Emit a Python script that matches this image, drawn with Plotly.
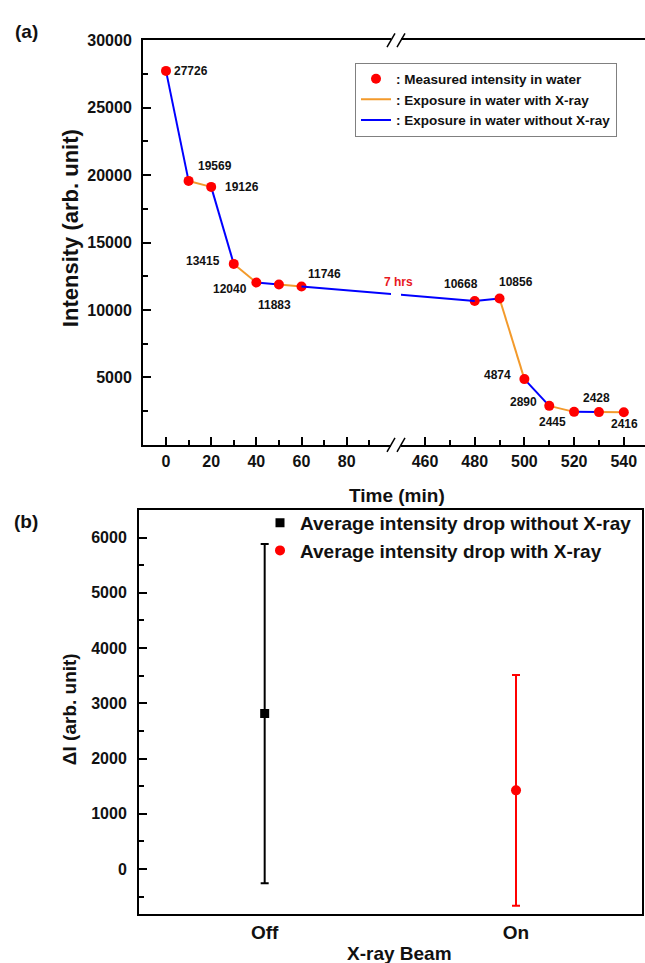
import plotly.graph_objects as go

W, H = 645, 963

# ---------------- Panel (a) data ----------------
time_min = [0, 10, 20, 30, 40, 50, 60, 480, 490, 500, 510, 520, 530, 540]
intensity = [27726, 19569, 19126, 13415, 12040, 11883, 11746,
             10668, 10856, 4874, 2890, 2445, 2428, 2416]
# exposure of each segment between consecutive measurements (True = with X-ray)
segment_xray = [False, True, False, True, False, True, False,
                False, True, False, True, False, True]
gap_label = "7 hrs"
left_ticks = [0, 20, 40, 60, 80]
left_minor = [10, 30, 50, 70, 90]
right_ticks = [460, 480, 500, 520, 540]
right_minor = [470, 490, 510, 530]
y_ticks_a = [5000, 10000, 15000, 20000, 25000, 30000]
y_minor_a = [2500, 7500, 12500, 17500, 22500, 27500]
legend_a = [": Measured intensity in water",
            ": Exposure in water with X-ray",
            ": Exposure in water without X-ray"]

# ---------------- Panel (b) data ----------------
beam_states = ["Off", "On"]
delta_mean = [2815, 1425]
delta_err = [3070, 2088]
y_ticks_b = [0, 1000, 2000, 3000, 4000, 5000, 6000]
y_minor_b = [-500, 500, 1500, 2500, 3500, 4500, 5500]
legend_b = ["Average intensity drop without X-ray",
            "Average intensity drop with X-ray"]

# ---------------- styling / layout constants ----------------
FONT = "Liberation Sans, Arial, sans-serif"
RED = "#ff0000"
ORANGE = "#f39a2b"
BLUE = "#0000ff"
TXT = "#111111"

def fx(p):
    return p / W

def fy(p):
    return 1 - p / H

# panel (a) pixel frame
A_L, A_BL, A_BR, A_R = 143, 391, 401, 645
A_T, A_B = 32.5, 440.5
# pixel scales of the two broken-axis segments
L0_PX, L_SCALE = 166.0, 2.2585   # px of t=0, px per minute
R0_PX, R_SCALE = 425.0, 2.485    # px of t=460, px per minute
R0_T = 460
xr_left = [(A_L - L0_PX) / L_SCALE, (A_BL - L0_PX) / L_SCALE]
xr_right = [R0_T + (A_BR - R0_PX) / R_SCALE, R0_T + (A_R - R0_PX) / R_SCALE]

# virtual linear axes for the segment crossing the break
ci = [i for i in range(len(time_min) - 1) if time_min[i] < 100 < time_min[i + 1]][0]
ta, tb = time_min[ci], time_min[ci + 1]
pa = L0_PX + ta * L_SCALE
pb = R0_PX + (tb - R0_T) * R_SCALE
k = (pb - pa) / (tb - ta)
xr_v1 = [ta + (A_L - pa) / k, ta + (A_BL - pa) / k]
xr_v2 = [ta + (A_BR - pa) / k, ta + (A_R - pa) / k]

# panel (b) pixel frame
B_L, B_R, B_T, B_B = 139, 641.7, 506, 913.3

fig = go.Figure()

def seg_axis(i):
    if i == ci:
        return None
    return "x" if time_min[i + 1] < 100 else "x2"

shown = {True: False, False: False}
for i in range(len(time_min) - 1):
    col = ORANGE if segment_xray[i] else BLUE
    name = legend_a[1] if segment_xray[i] else legend_a[2]
    xs = [time_min[i], time_min[i + 1]]
    ys = [intensity[i], intensity[i + 1]]
    axes = [seg_axis(i)] if seg_axis(i) else ["x3", "x4"]
    for ax in axes:
        show = not shown[segment_xray[i]]
        shown[segment_xray[i]] = True
        fig.add_trace(go.Scatter(
            x=xs, y=ys, mode="lines", xaxis=ax, yaxis="y",
            line=dict(color=col, width=2),
            name=name, showlegend=show, legend="legend",
            legendrank=2 if segment_xray[i] else 3, hoverinfo="skip"))

left_idx = [i for i, t in enumerate(time_min) if t < 100]
right_idx = [i for i, t in enumerate(time_min) if t > 100]
fig.add_trace(go.Scatter(
    x=[time_min[i] for i in left_idx], y=[intensity[i] for i in left_idx],
    mode="markers", xaxis="x", yaxis="y",
    marker=dict(color=RED, size=10, line=dict(width=0)),
    name=legend_a[0], legend="legend", legendrank=1))
fig.add_trace(go.Scatter(
    x=[time_min[i] for i in right_idx], y=[intensity[i] for i in right_idx],
    mode="markers", xaxis="x2", yaxis="y",
    marker=dict(color=RED, size=10, line=dict(width=0)),
    showlegend=False))

# value label offsets (px)
label_offsets = [(25, 0), (26, 15), (31, 0), (-31, 3), (-26, -7), (-4, -20),
                 (23, 12), (-14, 17), (16, 16), (-27, 4), (-26, 4), (-22, -10),
                 (-2, 14), (1, -12)]
annotations = []
for i, (t, v) in enumerate(zip(time_min, intensity)):
    dx, dy = label_offsets[i]
    annotations.append(dict(
        x=t, y=v, xref="x" if t < 100 else "x2", yref="y",
        text=str(v), showarrow=False, xshift=dx, yshift=dy,
        xanchor="center", yanchor="middle",
        font=dict(family=FONT, size=12, color=TXT, weight="bold")))

annotations.append(dict(x=fx(398), y=fy(276), xref="paper", yref="paper",
                        text=gap_label, showarrow=False,
                        xanchor="center", yanchor="middle",
                        font=dict(family=FONT, size=12, color="#e8191e", weight="bold")))

# panel (b) traces
fig.add_trace(go.Scatter(
    x=[beam_states[0]], y=[delta_mean[0]], mode="markers",
    xaxis="x5", yaxis="y2",
    marker=dict(symbol="square", color="black", size=9),
    error_y=dict(type="data", array=[delta_err[0]], color="black",
                 thickness=2, width=4),
    name=legend_b[0], legend="legend2"))
fig.add_trace(go.Scatter(
    x=[beam_states[1]], y=[delta_mean[1]], mode="markers",
    xaxis="x5", yaxis="y2",
    marker=dict(symbol="circle", color=RED, size=10),
    error_y=dict(type="data", array=[delta_err[1]], color=RED,
                 thickness=2, width=4),
    name=legend_b[1], legend="legend2"))

# titles and panel labels
bold = lambda s: dict(family=FONT, size=s, color=TXT, weight="bold")
annotations += [
    dict(x=fx(70), y=fy(222), xref="paper", yref="paper", text="Intensity (arb. unit)",
         textangle=-90, showarrow=False, font=bold(22), xanchor="center", yanchor="middle"),
    dict(x=fx(397), y=fy(492), xref="paper", yref="paper", text="Time (min)",
         showarrow=False, font=bold(19), xanchor="center", yanchor="middle"),
    dict(x=fx(69), y=fy(707), xref="paper", yref="paper", text="ΔI (arb. unit)",
         textangle=-90, showarrow=False, font=bold(19), xanchor="center", yanchor="middle"),
    dict(x=fx(399), y=fy(953), xref="paper", yref="paper", text="X-ray Beam",
         showarrow=False, font=bold(19), xanchor="center", yanchor="middle"),
    dict(x=fx(26), y=fy(23.5), xref="paper", yref="paper", text="(a)",
         showarrow=False, font=bold(19), xanchor="center", yanchor="middle"),
    dict(x=fx(26), y=fy(518), xref="paper", yref="paper", text="(b)",
         showarrow=False, font=bold(19), xanchor="center", yanchor="middle"),
]

# axis break marks
shapes = []
for yb in (A_T, A_B):
    for xc in (A_BL, A_BR):
        shapes.append(dict(type="line", xref="paper", yref="paper",
                           x0=fx(xc - 4), x1=fx(xc + 4), y0=fy(yb + 7), y1=fy(yb - 7),
                           line=dict(color="black", width=1.5)))

axis_common = dict(showline=True, linecolor="black", linewidth=2, ticks="inside",
                   ticklen=8, tickwidth=2, tickcolor="black", showgrid=False,
                   zeroline=False, tickfont=bold(16), tickformat="d")

fig.update_layout(
    width=W, height=H, autosize=False,
    margin=dict(l=0, r=0, t=0, b=0),
    paper_bgcolor="white", plot_bgcolor="white",
    showlegend=True,
    xaxis=dict(domain=[fx(A_L), fx(A_BL)], anchor="y", range=xr_left,
               tickmode="array", tickvals=left_ticks, mirror=True,
               minor=dict(tickmode="array", tickvals=left_minor, ticks="inside",
                          ticklen=5, tickwidth=2, tickcolor="black"),
               ticklabelstandoff=1, **axis_common),
    xaxis2=dict(domain=[fx(A_BR), fx(A_R)], anchor="y", range=xr_right,
                tickmode="array", tickvals=right_ticks, mirror=True,
                minor=dict(tickmode="array", tickvals=right_minor, ticks="inside",
                           ticklen=5, tickwidth=2, tickcolor="black"),
                ticklabelstandoff=1, **axis_common),
    xaxis3=dict(overlaying="x", anchor="y", range=xr_v1, visible=False),
    xaxis4=dict(overlaying="x2", anchor="y", range=xr_v2, visible=False),
    yaxis=dict(domain=[fy(A_B), fy(A_T)], anchor="x", range=[0, 30000],
               tickmode="array", tickvals=y_ticks_a,
               minor=dict(tickmode="array", tickvals=y_minor_a, ticks="inside",
                          ticklen=5, tickwidth=2, tickcolor="black"),
               ticklabelstandoff=6, **axis_common),
    xaxis5=dict(domain=[fx(B_L), fx(B_R)], anchor="y2", type="category",
                range=[-0.5, 1.5], showline=True, linecolor="black", linewidth=2,
                mirror=True, ticks="", showgrid=False, zeroline=False,
                tickfont=bold(19), ticklabelstandoff=0),
    yaxis2=dict(domain=[fy(B_B), fy(B_T)], anchor="x5", range=[-808, 6503],
                tickmode="array", tickvals=y_ticks_b, mirror=True,
                minor=dict(tickmode="array", tickvals=y_minor_b, ticks="inside",
                           ticklen=5, tickwidth=2, tickcolor="black"),
                ticklabelstandoff=7, **axis_common),
    legend=dict(x=fx(355), y=fy(55), xanchor="left", yanchor="top",
                bgcolor="white", bordercolor="#808080", borderwidth=1,
                font=dict(family=FONT, size=13.5, color=TXT, weight="bold"),
                tracegroupgap=0, itemwidth=30),
    legend2=dict(x=fx(260), y=fy(500), xanchor="left", yanchor="top",
                 bgcolor="rgba(0,0,0,0)", borderwidth=0,
                 font=dict(family=FONT, size=19, color=TXT, weight="bold")),
    annotations=annotations,
    shapes=shapes,
)

fig.write_html("out.html", include_plotlyjs=True,
               config={"displayModeBar": False},
               post_script="document.body.style.margin='0px';document.body.style.padding='0px';")
